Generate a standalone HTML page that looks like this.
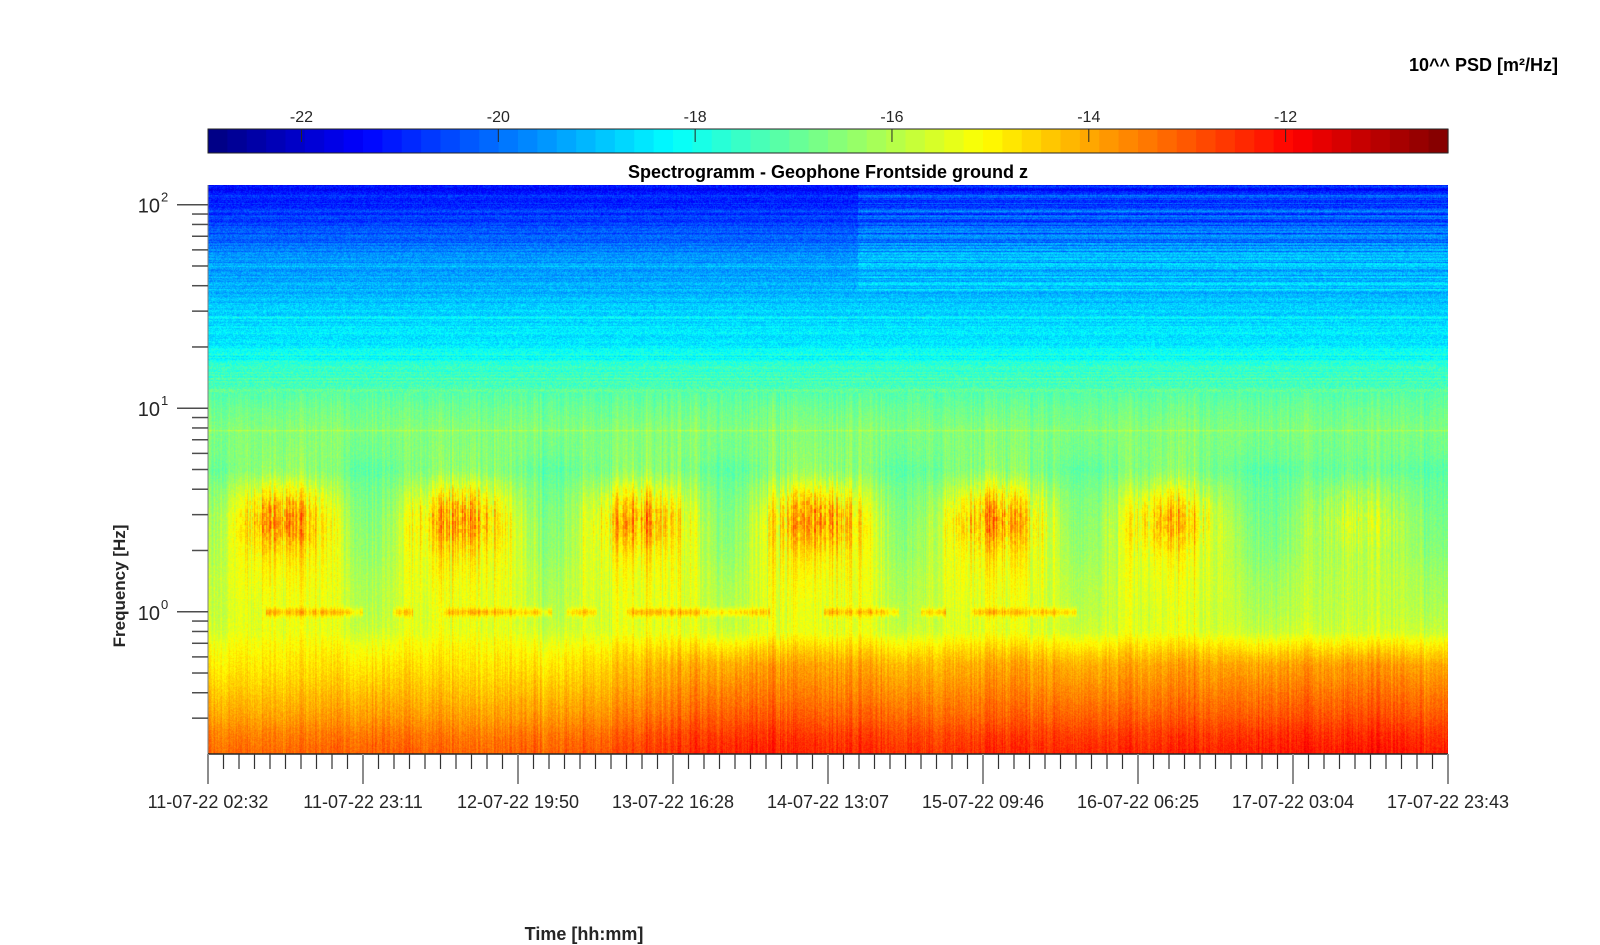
<!DOCTYPE html>
<html><head><meta charset="utf-8"><style>
html,body{margin:0;padding:0;background:#fff;}
#wrap{position:relative;width:1600px;height:945px;overflow:hidden;font-family:"Liberation Sans",Arial,sans-serif;}
canvas{position:absolute;left:208px;top:185px;}
svg{position:absolute;left:0;top:0;}
</style></head><body>
<div id="wrap">
<canvas id="spec" width="1240" height="569"></canvas>
<svg id="ax" width="1600" height="945"></svg>
</div>
<script>
// ---- data ----
const cMin = -22.95, cMax = -10.35;
const cbarTicks = [-22, -20, -18, -16, -14, -12];
const timeTickLabels = ["11-07-22 02:32","11-07-22 23:11","12-07-22 19:50","13-07-22 16:28","14-07-22 13:07","15-07-22 09:46","16-07-22 06:25","17-07-22 03:04","17-07-22 23:43"];
const totalHours = 165.18;
const fMin = 0.2, fMax = 125;
// night-time spectral profile (log10 PSD) at frequency nodes
const profFreq = [0.2,0.25,0.3,0.4,0.5,0.6,0.7,0.8,1.0,1.5,2.0,3.0,4.0,5.0,6.0,8.0,10,13,16,18,25,35,50,70,100,125];
const profVal  = [-13.2,-13.5,-13.9,-14.4,-14.8,-15.1,-15.4,-15.8,-16.1,-16.4,-16.7,-16.9,-17.0,-17.2,-16.9,-16.7,-16.9,-17.3,-17.7,-18.2,-18.6,-19.0,-19.4,-20.2,-20.9,-21.1];
// daytime (cultural noise) activity
const dayCentreHours = [9.8, 33.6, 57.3, 81.1, 104.9, 128.0, 153.0];
const dayLevel = [1.0, 1.0, 0.9, 1.05, 1.0, 0.8, 0.4];
// microseism boost below 0.8 Hz, every 12 h
const microHours = [0,12,24,36,48,60,72,84,96,108,120,132,144,156,165.2];
const microBoost = [0,0,0.15,0.05,0.15,0.6,0.95,0.85,0.7,0.9,0.8,0.9,1.0,1.1,0.9];
// 1 Hz tonal line segments (hours)
const lineStart = [7.7, 24.6, 31.4, 47.7, 55.8, 82.0, 94.9, 101.7];
const lineEnd   = [20.6, 27.3, 45.7, 51.8, 74.8, 92.0, 98.2, 115.7];
// persistent spectral lines (Hz) and strengths
const specLineFreq = [18.5, 28, 50, 7.8, 15];
const specLineAmp  = [0.9, 0.6, 0.8, 0.6, 0.4];
// high frequency level change
const stepHour = 86.5, stepBoost = 0.6;

// ---- helpers ----
const PX0=208, PX1=1448, PY0=185, PY1=754;
const L0=Math.log10(fMin), L1=Math.log10(fMax);
function xOfHour(h){return PX0+(h/totalHours)*(PX1-PX0);}
function yOfFreq(f){return PY1-(Math.log10(f)-L0)/(L1-L0)*(PY1-PY0);}
function jet(x){x=Math.max(0,Math.min(1,x));const c=v=>Math.max(0,Math.min(1,v));
 return [c(1.5-Math.abs(4*x-3)),c(1.5-Math.abs(4*x-2)),c(1.5-Math.abs(4*x-1))];}
function interp(xs,ys,x){if(x<=xs[0])return ys[0];for(let i=1;i<xs.length;i++){if(x<=xs[i]){const t=(x-xs[i-1])/(xs[i]-xs[i-1]);return ys[i-1]+t*(ys[i]-ys[i-1]);}}return ys[ys.length-1];}
function hash(a,b){let h=(a*374761393+b*668265263)|0;h=(h^(h>>>13))*1274126177|0;h=h^(h>>>16);return ((h>>>0)/4294967295)*2-1;}
const logProfF = profFreq.map(f=>Math.log10(f));

// ---- spectrogram ----
(function(){
 const cv=document.getElementById('spec');const ctx=cv.getContext('2d');
 const W=cv.width,H=cv.height;const img=ctx.createImageData(W,H);const d=img.data;
 const colNoise=[],colNoise2=[];
 for(let i=0;i<W;i++){colNoise.push((hash(i,7)+hash(i>>1,11)*0.6+hash(i>>2,13)*0.4)/2);colNoise2.push(hash(i,99));}
 const rowNoise=[];for(let j=0;j<H;j++)rowNoise.push(hash(3,j)+0.5*hash(5,j>>1));
 for(let i=0;i<W;i++){
  const h=i/W*totalHours;
  let act=0,actW=0;for(let k=0;k<dayCentreHours.length;k++){const dt=(h-dayCentreHours[k])/6;act+=dayLevel[k]*Math.exp(-dt*dt);const dw=(h-dayCentreHours[k])/9.5;actW+=dayLevel[k]*Math.exp(-dw*dw*dw*dw);}
  const mic=interp(microHours,microBoost,h);
  let onLine=false;for(let k=0;k<lineStart.length;k++)if(h>=lineStart[k]&&h<=lineEnd[k])onLine=true;
  for(let j=0;j<H;j++){
   const lf=L1-(j/H)*(L1-L0);const f=Math.pow(10,lf);
   let v=interp(logProfF,profVal,lf);
   const g1=(lf-0.47)/0.17, g2=(lf-0.32)/0.4;
   const jit=1+0.6*colNoise[i]+0.3*hash(i>>1,j>>2);
   v+=act*jit*1.8*Math.exp(-g1*g1)+actW*(1+0.4*colNoise[i])*1.4*Math.exp(-g2*g2);
   if(f<0.8){const w=f<=0.55?1:(0.8-f)/0.25;v+=mic*w;}
   if(onLine){const dl=lf/0.02;v+=1.1*Math.exp(-dl*dl)*(1+0.3*hash(i>>2,3));}
   for(let k=0;k<specLineFreq.length;k++){const dl=(lf-Math.log10(specLineFreq[k]))/0.0035;v+=specLineAmp[k]*Math.exp(-dl*dl);}
   if(h>stepHour&&f>38)v+=stepBoost*(0.6+0.5*rowNoise[j]);
   if(f<12){v+=0.45*colNoise[i]*(f<1?1:0.8)+0.25*hash(i,j)+0.15*colNoise2[i];}
   else{v+=0.3*rowNoise[j]+0.45*hash(i,j);}
   const c=jet((v-cMin)/(cMax-cMin));const p=(j*W+i)*4;
   d[p]=c[0]*255;d[p+1]=c[1]*255;d[p+2]=c[2]*255;d[p+3]=255;
  }
 }
 ctx.putImageData(img,0,0);
})();

// ---- axes ----
(function(){
 const svg=document.getElementById('ax');const NS='http://www.w3.org/2000/svg';
 function el(tag,attrs,txt){const e=document.createElementNS(NS,tag);for(const k in attrs)e.setAttribute(k,attrs[k]);if(txt!==undefined)e.textContent=txt;svg.appendChild(e);return e;}
 const CB0=208,CB1=1448,CBY=129,CBH=24,N=64;
 for(let k=0;k<N;k++){const c=jet((k+0.5)/N);
  const r=el('rect',{x:CB0+k*(CB1-CB0)/N,y:CBY,width:(CB1-CB0)/N+0.6,height:CBH,fill:`rgb(${Math.round(c[0]*255)},${Math.round(c[1]*255)},${Math.round(c[2]*255)})`});
  
  }
 const cbb=el('rect',{x:CB0,y:CBY,width:CB1-CB0,height:CBH,fill:'none',stroke:'#262626','stroke-width':1});
 
 cbarTicks.forEach(t=>{const x=CB0+(t-cMin)/(cMax-cMin)*(CB1-CB0);
  el('line',{x1:x,x2:x,y1:CBY,y2:CBY+13,stroke:'#262626'});
  const tx=el('text',{x:x,y:122,'text-anchor':'middle','font-size':16,fill:'#262626'},String(t));
  });
 const cbt=el('text',{x:1558,y:71,'text-anchor':'end','font-size':18,'font-weight':'bold',fill:'#000'},'10^^ PSD [m²/Hz]');
 
 const tt=el('text',{x:(PX0+PX1)/2,y:178,'text-anchor':'middle','font-size':18,'font-weight':'bold',fill:'#000'},'Spectrogramm - Geophone Frontside ground z');
 
 el('line',{x1:PX0,x2:PX0,y1:PY0,y2:PY1,stroke:'#7f7f7f','stroke-width':1});
 el('line',{x1:PX0,x2:PX1,y1:PY1,y2:PY1,stroke:'#262626','stroke-width':1.5});
 for(let dec=-1;dec<=2;dec++){for(let m=1;m<=9;m++){const f=m*Math.pow(10,dec);if(f<fMin*1.01||f>fMax)continue;
  const y=yOfFreq(f);
  if(m===1){el('line',{x1:177,x2:PX0,y1:y,y2:y,stroke:'#4d4d4d','stroke-width':1.5});
   const tx=el('text',{x:160,y:y+8,'text-anchor':'end','font-size':20,fill:'#262626'},'10');
   
   el('text',{x:161,y:y-3,'font-size':13,fill:'#262626'},String(dec));}
  else el('line',{x1:192,x2:PX0,y1:y,y2:y,stroke:'#4d4d4d','stroke-width':1.5});}}
 const nMaj=timeTickLabels.length-1;
 for(let k=0;k<=nMaj*10;k++){const x=PX0+k*(PX1-PX0)/(nMaj*10);
  if(k%10===0){el('line',{x1:x,x2:x,y1:PY1,y2:784,stroke:'#8c8c8c','stroke-width':2});}
  else el('line',{x1:x,x2:x,y1:PY1,y2:769,stroke:'#333','stroke-width':1.2});}
 timeTickLabels.forEach((lab,k)=>{const tx=el('text',{x:PX0+k*(PX1-PX0)/nMaj,y:808,'text-anchor':'middle','font-size':18,fill:'#262626'},lab);
  });
 const xl=el('text',{x:584,y:940,'text-anchor':'middle','font-size':18,'font-weight':'bold',fill:'#262626'},'Time [hh:mm]');
 
 const yl=el('text',{x:0,y:0,'text-anchor':'middle','font-size':17,'font-weight':'bold',fill:'#262626',transform:'translate(125,586) rotate(-90)'},'Frequency [Hz]');
 
})();
</script>
</body></html>
